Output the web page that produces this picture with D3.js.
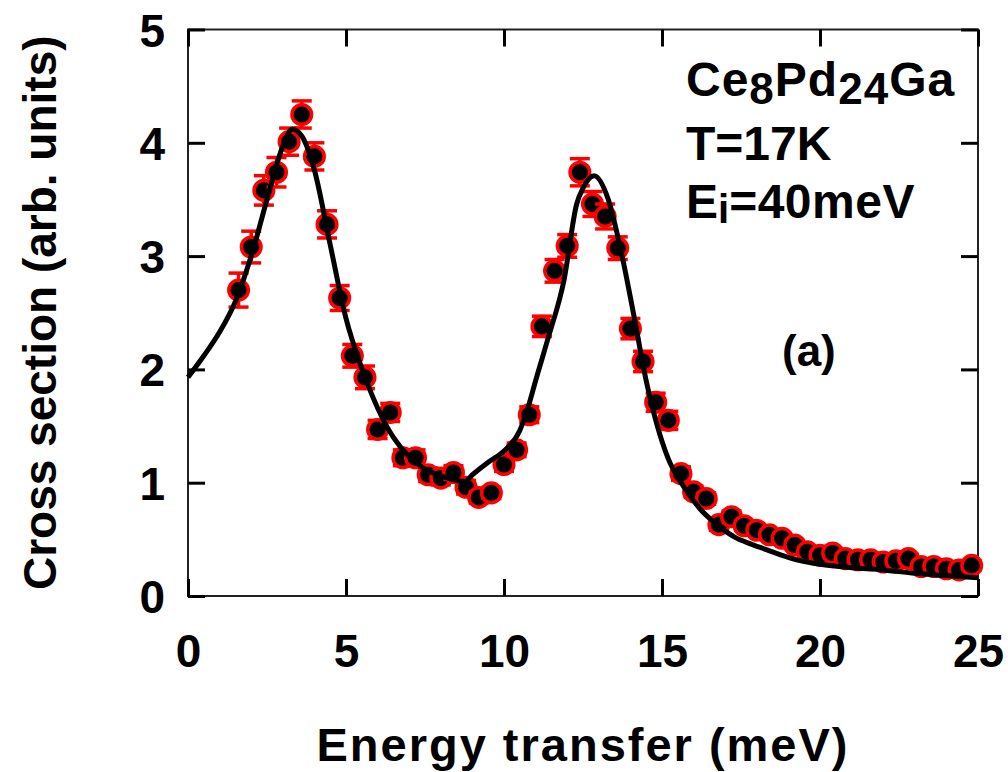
<!DOCTYPE html>
<html>
<head>
<meta charset="utf-8">
<script src="https://cdn.jsdelivr.net/npm/d3@7"></script>
<style>
  body { margin: 0; background: #fff; }
  text { font-family: "Liberation Sans", Arial, sans-serif; font-weight: bold; fill: #000; }
</style>
</head>
<body>
<div id="chart"></div>
<script>
// measured points (energy transfer in meV, cross section, error)
var energy = [1.6, 2.0, 2.4, 2.8, 3.2, 3.6, 4.0, 4.4, 4.8, 5.2, 5.6, 6.0, 6.4, 6.8, 7.2, 7.6, 8.0, 8.4, 8.8, 9.2,
              9.6, 10.0, 10.4, 10.8, 11.2, 11.6, 12.0, 12.4, 12.8, 13.2, 13.6, 14.0, 14.4, 14.8, 15.2, 15.6, 16.0, 16.4, 16.8, 17.2,
              17.6, 18.0, 18.4, 18.8, 19.2, 19.6, 20.0, 20.4, 20.8, 21.2, 21.6, 22.0, 22.4, 22.8, 23.2, 23.6, 24.0, 24.4, 24.8];
var intensity = [2.70, 3.08, 3.58, 3.74, 4.01, 4.25, 3.88, 3.28, 2.63, 2.12, 1.93, 1.47, 1.62, 1.22, 1.22, 1.07, 1.04, 1.09, 0.96, 0.87,
                 0.91, 1.16, 1.29, 1.60, 2.38, 2.87, 3.09, 3.74, 3.46, 3.35, 3.07, 2.36, 2.07, 1.71, 1.55, 1.08, 0.92, 0.86, 0.63, 0.70,
                 0.62, 0.58, 0.54, 0.51, 0.45, 0.39, 0.36, 0.38, 0.33, 0.32, 0.32, 0.30, 0.31, 0.33, 0.26, 0.26, 0.24, 0.23, 0.27];
var errors = [0.15, 0.14, 0.13, 0.13, 0.12, 0.12, 0.12, 0.12, 0.11, 0.10, 0.10, 0.08, 0.08, 0.07, 0.07, 0.06, 0.06, 0.06, 0.06, 0.05,
              0.05, 0.06, 0.06, 0.07, 0.09, 0.10, 0.10, 0.12, 0.11, 0.11, 0.10, 0.09, 0.09, 0.08, 0.08, 0.06, 0.05, 0.05, 0.05, 0.05,
              0.04, 0.04, 0.04, 0.04, 0.04, 0.04, 0.04, 0.04, 0.04, 0.04, 0.04, 0.04, 0.04, 0.04, 0.04, 0.04, 0.04, 0.04, 0.04];

// fitted curve
var fitX = [0, 0.5, 1.0, 1.5, 2.0, 2.5, 3.0, 3.3, 3.6, 4.0, 4.5, 5.0, 5.5, 6.0, 6.5, 7.0, 7.5, 8.0, 8.5, 8.75,
            9.0, 9.5, 10.0, 10.5, 10.8, 11.0, 11.4, 11.9, 12.3, 12.5, 12.85, 13.3, 13.7, 14.1, 14.5, 15.2, 15.7, 16.2, 16.7, 17.3,
            17.8, 18.3, 18.9, 19.4, 20.0, 21.0, 22.0, 23.0, 24.0, 25.0];
var fitY = [1.93, 2.12, 2.33, 2.60, 3.00, 3.50, 3.97, 4.12, 4.06, 3.76, 3.10, 2.45, 2.01, 1.66, 1.40, 1.23, 1.12, 1.06, 1.02, 1.01,
            1.07, 1.18, 1.28, 1.46, 1.70, 1.90, 2.28, 2.79, 3.46, 3.60, 3.71, 3.50, 3.05, 2.49, 1.90, 1.21, 0.96, 0.77, 0.64, 0.52,
            0.46, 0.41, 0.35, 0.31, 0.28, 0.25, 0.23, 0.20, 0.18, 0.16];

var xTicks = [0, 5, 10, 15, 20, 25];
var yTicks = [0, 1, 2, 3, 4, 5];

var width = 1008,
    height = 772;
var plotL = 188, plotR = 978, plotT = 29.5, plotB = 596;

var svg = d3.select("#chart").append("svg")
    .attr("width", width)
    .attr("height", height);

var x = d3.scaleLinear().domain([0, 25]).range([plotL, plotR]);
var y = d3.scaleLinear().domain([0, 5]).range([plotB, plotT]);

var tickLen = 17;

// frame
svg.append("rect")
    .attr("x", plotL).attr("y", plotT)
    .attr("width", plotR - plotL).attr("height", plotB - plotT)
    .attr("fill", "none").attr("stroke", "#222").attr("stroke-width", 2);

// inward ticks on all four sides
var xAxisB = d3.axisBottom(x).tickValues(xTicks).tickSizeInner(-tickLen).tickSizeOuter(0).tickFormat(d3.format("d"));
var gx = svg.append("g").attr("transform", "translate(0," + plotB + ")").call(xAxisB);
var xAxisT = d3.axisTop(x).tickValues(xTicks).tickSizeInner(-tickLen).tickSizeOuter(0).tickFormat("");
var gxt = svg.append("g").attr("transform", "translate(0," + plotT + ")").call(xAxisT);
var yAxisL = d3.axisLeft(y).tickValues(yTicks).tickSizeInner(-tickLen).tickSizeOuter(0).tickFormat(d3.format("d"));
var gy = svg.append("g").attr("transform", "translate(" + plotL + ",0)").call(yAxisL);
var yAxisR = d3.axisRight(y).tickValues(yTicks).tickSizeInner(-tickLen).tickSizeOuter(0).tickFormat("");
var gyr = svg.append("g").attr("transform", "translate(" + plotR + ",0)").call(yAxisR);

[gx, gxt, gy, gyr].forEach(function(g) {
    g.select(".domain").remove();
    g.selectAll(".tick line").attr("stroke", "#000").attr("stroke-width", 3);
});

gx.selectAll(".tick text")
    .attr("font-size", 46).attr("font-family", "Liberation Sans, Arial, sans-serif")
    .attr("font-weight", "bold").attr("fill", "#000")
    .attr("y", 0).attr("dy", "1.55em");
gy.selectAll(".tick text")
    .attr("font-size", 46).attr("font-family", "Liberation Sans, Arial, sans-serif")
    .attr("font-weight", "bold").attr("fill", "#000")
    .attr("x", -23).attr("dy", "0.36em");

// axis titles
svg.append("text")
    .attr("x", (plotL + plotR) / 2).attr("y", 761)
    .attr("text-anchor", "middle").attr("font-size", 47)
    .attr("letter-spacing", 2)
    .text("Energy transfer (meV)");
svg.append("text")
    .attr("transform", "translate(56," + (plotT + plotB) / 2 + ") rotate(-90)")
    .attr("text-anchor", "middle").attr("font-size", 46)
    .text("Cross section (arb. units)");

// data with error bars
var points = energy.map(function(e, i) { return {e: e, v: intensity[i], err: errors[i]}; });
var capW = 10;

var pts = svg.append("g").selectAll("g").data(points).enter().append("g");
pts.append("line")
    .attr("x1", function(d) { return x(d.e); }).attr("x2", function(d) { return x(d.e); })
    .attr("y1", function(d) { return y(d.v + d.err); }).attr("y2", function(d) { return y(d.v - d.err); })
    .attr("stroke", "red").attr("stroke-width", 3.5);
pts.append("line")
    .attr("x1", function(d) { return x(d.e) - capW; }).attr("x2", function(d) { return x(d.e) + capW; })
    .attr("y1", function(d) { return y(d.v + d.err); }).attr("y2", function(d) { return y(d.v + d.err); })
    .attr("stroke", "red").attr("stroke-width", 3.5);
pts.append("line")
    .attr("x1", function(d) { return x(d.e) - capW; }).attr("x2", function(d) { return x(d.e) + capW; })
    .attr("y1", function(d) { return y(d.v - d.err); }).attr("y2", function(d) { return y(d.v - d.err); })
    .attr("stroke", "red").attr("stroke-width", 3.5);
pts.append("circle")
    .attr("cx", function(d) { return x(d.e); })
    .attr("cy", function(d) { return y(d.v); })
    .attr("r", 9.8)
    .attr("fill", "#000").attr("stroke", "red").attr("stroke-width", 3.5);

// fit curve on top
var fit = fitX.map(function(e, i) { return [e, fitY[i]]; });
var line = d3.line()
    .x(function(d) { return x(d[0]); })
    .y(function(d) { return y(d[1]); })
    .curve(d3.curveMonotoneX);
svg.append("path")
    .datum(fit)
    .attr("d", line)
    .attr("fill", "none").attr("stroke", "#000").attr("stroke-width", 5);

// annotation
var note = svg.append("g").attr("font-size", 48);
var t1 = note.append("text").attr("x", 686).attr("y", 96).attr("letter-spacing", 1);
t1.append("tspan").text("Ce");
t1.append("tspan").attr("font-size", 44).attr("dy", 8).text("8");
t1.append("tspan").attr("dy", -8).text("Pd");
t1.append("tspan").attr("font-size", 44).attr("dy", 8).text("24");
t1.append("tspan").attr("dy", -8).text("Ga");
note.append("text").attr("x", 686).attr("y", 160).text("T=17K");
var t3 = note.append("text").attr("x", 686).attr("y", 218);
t3.append("tspan").text("E");
t3.append("tspan").attr("font-size", 40).attr("dy", 5).text("i");
t3.append("tspan").attr("dy", -5).attr("letter-spacing", 0.5).text("=40meV");
note.append("text").attr("x", 782).attr("y", 366).attr("font-size", 44).text("(a)");
</script>
</body>
</html>
